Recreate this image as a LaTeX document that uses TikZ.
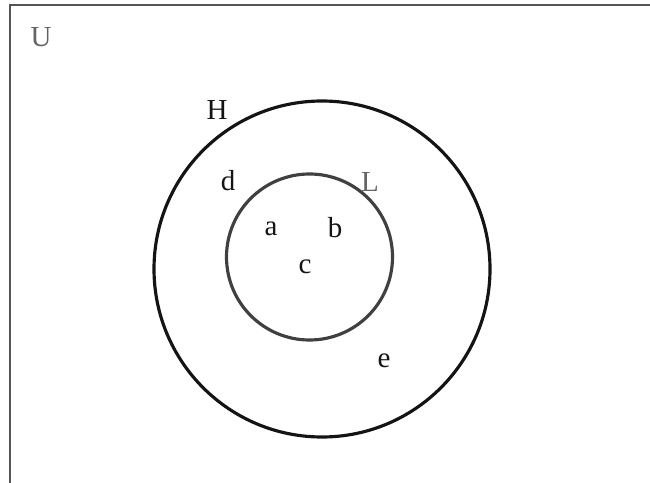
\documentclass[tikz,border=0pt]{standalone}
\usepackage{xcolor,tikz,fontspec}
\setmainfont{Liberation Serif}
\usetikzlibrary{positioning}
\definecolor{ink}{RGB}{20,20,20}
\definecolor{frame}{RGB}{85,85,85}
\definecolor{ring}{RGB}{64,64,64}
\definecolor{muted}{RGB}{100,100,100}
\tikzset{
  border/.style={draw=frame,line width=1.5pt},
  setc/.style={circle,inner sep=0pt,line width=1.8pt},
  elt/.style={font=\fontsize{16.5}{20}\selectfont,text=ink,inner sep=0pt},
  setlab/.style={font=\fontsize{16.5}{20}\selectfont,inner sep=0pt}
}
\begin{document}
\begin{tikzpicture}
  \useasboundingbox (0,0) rectangle (13,9.64);
  \draw[border] (0.2,-0.3) -- (0.2,9.54) -- (13.3,9.54);
  \node[setc,draw=ink,minimum size=6.72cm] (setH) at (6.44,4.26) {};
  \node[setc,draw=ring,minimum size=3.32cm] (setL) at (6.19,4.50) {};

  \node[setlab,text=muted] (U) at (0.82,8.9) {U};
  \node[setlab,text=ink] (H) at (4.34,7.44) {H};
  \node[setlab,text=muted] (L) at (7.4,6.0) {L};
  \node[elt] (d) at (4.56,6.02) {d};
  \node[elt] (a) at (5.42,5.06) {a};
  \node[elt] (b) at (6.7,5.08) {b};
  \node[elt] (c) at (6.1,4.3) {c};
  \node[elt] (e) at (7.68,2.42) {e};
\end{tikzpicture}
\end{document}
